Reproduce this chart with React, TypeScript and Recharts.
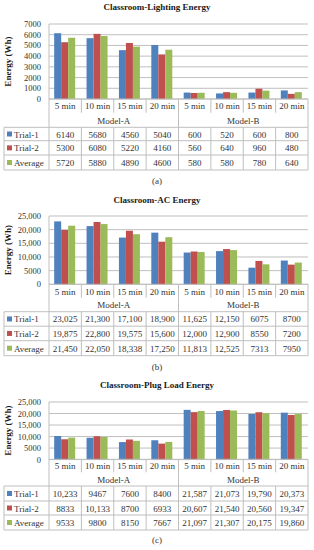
import { BarChart, Bar, XAxis, YAxis, CartesianGrid } from 'recharts'

const categories = ['5 min', '10 min', '15 min', '20 min', '5 min', '10 min', '15 min', '20 min']
const models = ['Model-A', 'Model-B']
const seriesNames = ['Trial-1', 'Trial-2', 'Average']
const seriesColors = ['#4F81BD', '#C0504D', '#9BBB59']

const lightingTrial1 = [6140, 5680, 4560, 5040, 600, 520, 600, 800]
const lightingTrial2 = [5300, 6080, 5220, 4160, 560, 640, 960, 480]
const lightingAverage = [5720, 5880, 4890, 4600, 580, 580, 780, 640]
const lightingTicks = [0, 1000, 2000, 3000, 4000, 5000, 6000, 7000]

const acTrial1 = [23025, 21300, 17100, 18900, 11625, 12150, 6075, 8700]
const acTrial2 = [19875, 22800, 19575, 15600, 12000, 12900, 8550, 7200]
const acAverage = [21450, 22050, 18338, 17250, 11813, 12525, 7313, 7950]
const acTicks = [0, 5000, 10000, 15000, 20000, 25000]

const plugTrial1 = [10233, 9467, 7600, 8400, 21587, 21073, 19790, 20373]
const plugTrial2 = [8833, 10133, 8700, 6933, 20607, 21540, 20560, 19347]
const plugAverage = [9533, 9800, 8150, 7667, 21097, 21307, 20175, 19860]
const plugTicks = [0, 5000, 10000, 15000, 20000, 25000]

const FONT = '"Liberation Serif", "Times New Roman", serif'
const LINE = '#BFBFBF'
const TEXT = '#333333'
const PLOT_LEFT = 49
const PLOT_RIGHT = 308
const TABLE_LEFT = 4
const COL_W = (PLOT_RIGHT - PLOT_LEFT) / categories.length

const fmt = (v: number) => (v >= 10000 ? v.toLocaleString('en-US') : String(v))

interface Layout {
  titleY: number
  plotTop: number
  plotBottom: number
  catBottom: number
  modelBottom: number
  rows: number[]
  captionY: number
}

interface PanelProps {
  title: string
  caption: string
  series: number[][]
  ticks: number[]
  layout: Layout
}

function Panel({ title, caption, series, ticks, layout }: PanelProps) {
  const L = layout
  const data = categories.map((c, i) => ({
    key: `${i < 4 ? 'A' : 'B'}-${c}`,
    t1: series[0][i],
    t2: series[1][i],
    avg: series[2][i],
  }))
  const keys = ['t1', 't2', 'avg']
  const chartTop = L.plotTop - 8
  const chartH = L.plotBottom - L.plotTop + 12

  return (
    <>
      <div style={{ position: 'absolute', left: 0, top: chartTop }}>
        <BarChart width={314} height={chartH} data={data}
          margin={{ top: 8, right: 314 - PLOT_RIGHT, bottom: 4, left: 3 }}
          barCategoryGap="16%" barGap={0}>
          <CartesianGrid vertical={false} stroke={LINE} strokeWidth={1} />
          <XAxis dataKey="key" hide />
          <YAxis width={46} domain={[0, ticks[ticks.length - 1]]} ticks={ticks} interval={0}
            tickFormatter={fmt} tickLine={false} tickSize={0} tickMargin={8}
            axisLine={{ stroke: LINE }}
            tick={{ fontSize: 8.5, fill: TEXT, fontFamily: FONT }} />
          {keys.map((k, i) => (
            <Bar key={k} dataKey={k} fill={seriesColors[i]} isAnimationActive={false} />
          ))}
        </BarChart>
      </div>
      <svg width={314} height={550} style={{ position: 'absolute', left: 0, top: 0, pointerEvents: 'none' }}
        fontFamily={FONT}>
        <text x={157} y={L.titleY} textAnchor="middle" dominantBaseline="central"
          fontSize={9} fontWeight="bold" fill="#1a1a1a">{title}</text>
        <text x={0} y={0} transform={`translate(7.5, ${(L.plotTop + L.plotBottom) / 2}) rotate(-90)`}
          textAnchor="middle" dominantBaseline="central" fontSize={9} fontWeight="bold" fill="#1a1a1a">
          Energy (Wh)
        </text>
        <text x={157} y={L.captionY} textAnchor="middle" dominantBaseline="central" fontSize={9} fill={TEXT}>
          {caption}
        </text>

        {/* category row */}
        <line x1={PLOT_LEFT} x2={PLOT_RIGHT} y1={L.plotBottom} y2={L.plotBottom} stroke={LINE} />
        {categories.map((c, i) => (
          <g key={`c${i}`}>
            <line x1={PLOT_LEFT + (i + 1) * COL_W} x2={PLOT_LEFT + (i + 1) * COL_W}
              y1={L.plotBottom} y2={L.catBottom} stroke={LINE} />
            <text x={PLOT_LEFT + (i + 0.5) * COL_W} y={(L.plotBottom + L.catBottom) / 2 + 0.5}
              textAnchor="middle" dominantBaseline="central" fontSize={9} fill={TEXT}>{c}</text>
          </g>
        ))}

        {/* model row */}
        <line x1={PLOT_LEFT} x2={PLOT_LEFT} y1={L.plotBottom} y2={L.rows[3]} stroke={LINE} />
        {models.map((m, i) => (
          <g key={m}>
            <line x1={PLOT_LEFT + (i + 1) * 4 * COL_W} x2={PLOT_LEFT + (i + 1) * 4 * COL_W}
              y1={L.catBottom} y2={L.modelBottom} stroke={LINE} />
            <text x={PLOT_LEFT + (i * 4 + 2) * COL_W} y={(L.catBottom + L.modelBottom) / 2 + 0.5}
              textAnchor="middle" dominantBaseline="central" fontSize={9} fill={TEXT}>{m}</text>
          </g>
        ))}

        {/* data rows */}
        {L.rows.map((y, i) => (
          <line key={`r${i}`} x1={TABLE_LEFT} x2={PLOT_RIGHT} y1={y} y2={y} stroke={LINE} />
        ))}
        <line x1={TABLE_LEFT} x2={TABLE_LEFT} y1={L.rows[0]} y2={L.rows[3]} stroke={LINE} />
        {categories.map((_, i) => (
          <line key={`v${i}`} x1={PLOT_LEFT + (i + 1) * COL_W} x2={PLOT_LEFT + (i + 1) * COL_W}
            y1={L.rows[0]} y2={L.rows[3]} stroke={LINE} />
        ))}
        {seriesNames.map((name, r) => {
          const cy = (L.rows[r] + L.rows[r + 1]) / 2
          return (
            <g key={name}>
              <rect x={7} y={cy - 2.5} width={5} height={5} fill={seriesColors[r]} />
              <text x={14} y={cy + 0.5} dominantBaseline="central" fontSize={9} fill={TEXT}>{name}</text>
              {series[r].map((v, i) => (
                <text key={i} x={PLOT_LEFT + (i + 0.5) * COL_W} y={cy + 0.5} textAnchor="middle"
                  dominantBaseline="central" fontSize={9} fill={TEXT}>{fmt(v)}</text>
              ))}
            </g>
          )
        })}
      </svg>
    </>
  )
}

export default function App() {
  return (
    <div style={{ position: 'absolute', left: 0, top: 0, width: 314, height: 550, background: '#fff' }}>
      <Panel title="Classroom-Lighting Energy" caption="(a)"
        series={[lightingTrial1, lightingTrial2, lightingAverage]} ticks={lightingTicks}
        layout={{ titleY: 7, plotTop: 24, plotBottom: 99, catBottom: 112.7, modelBottom: 127.3,
          rows: [127.3, 140.7, 155, 170], captionY: 181 }} />
      <Panel title="Classroom-AC Energy" caption="(b)"
        series={[acTrial1, acTrial2, acAverage]} ticks={acTicks}
        layout={{ titleY: 200, plotTop: 216, plotBottom: 284.3, catBottom: 297.7, modelBottom: 311.7,
          rows: [311.7, 326.2, 340.7, 355.7], captionY: 367 }} />
      <Panel title="Classroom-Plug Load Energy" caption="(c)"
        series={[plugTrial1, plugTrial2, plugAverage]} ticks={plugTicks}
        layout={{ titleY: 385, plotTop: 401.7, plotBottom: 459.3, catBottom: 472.3, modelBottom: 486,
          rows: [486, 501, 515, 530], captionY: 540 }} />
    </div>
  )
}
